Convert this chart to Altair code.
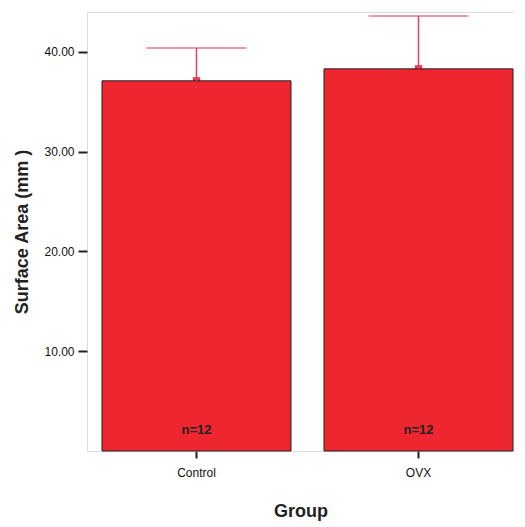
import altair as alt
import pandas as pd

groups = ["Control", "OVX"]
means = [37.1, 38.3]
upper = [40.4, 43.6]
n_labels = ["n=12", "n=12"]
y_ticks = [10, 20, 30, 40]

df = pd.DataFrame({"Group": groups, "Mean": means, "Upper": upper, "N": n_labels})

RED = "#ee2630"
ERR = "#e0405c"
FONT = "Liberation Sans"

x_scale = alt.Scale(paddingInner=0.1486, paddingOuter=0.036, align=0.9375)
y_scale = alt.Scale(domain=[0, 44], nice=False)

x_enc = alt.X("Group:N", sort=groups, scale=x_scale,
              axis=alt.Axis(title="Group", labelAngle=0, domain=False,
                            tickSize=7, tickColor="#222", tickWidth=2,
                            labelFont=FONT, labelFontSize=12, labelColor="#111",
                            labelPadding=9,
                            titleFont=FONT, titleFontSize=18, titleFontWeight="bold",
                            titleColor="#222", titlePadding=24))

base = alt.Chart(df)

square = base.mark_square(color=ERR, size=55, opacity=1).encode(
    x=x_enc,
    y=alt.Y("Mean:Q", scale=y_scale),
)

bars = base.mark_bar(color=RED, stroke="#222", strokeWidth=1).encode(
    x=x_enc,
    y=alt.Y("Mean:Q", scale=y_scale,
            axis=alt.Axis(title="Surface Area (mm )", values=y_ticks, format=".2f",
                          grid=False, domain=False, tickSize=9, tickColor="#222",
                          tickWidth=2, labelFont=FONT, labelFontSize=12,
                          labelColor="#111", labelPadding=4,
                          titleFont=FONT, titleFontSize=18, titleFontWeight="bold",
                          titleColor="#222", titlePadding=12)),
)

rule = base.mark_rule(color=ERR, strokeWidth=1.5).encode(
    x=x_enc,
    y=alt.Y("Mean:Q", scale=y_scale),
    y2="Upper:Q",
)

cap = base.mark_tick(color=ERR, size=100, thickness=1.5).encode(
    x=x_enc,
    y=alt.Y("Upper:Q", scale=y_scale),
)

ntext = base.mark_text(font=FONT, fontSize=13, fontWeight="bold", color="#222",
                       baseline="bottom", dy=-14).encode(
    x=x_enc,
    y=alt.datum(0, scale=y_scale),
    text="N:N",
)

chart = alt.layer(square, bars, rule, cap, ntext).properties(
    width=427, height=439,
    padding={"left": 5, "top": 4, "right": 0, "bottom": 5},
).configure_view(stroke="#444", strokeWidth=1).configure(background="white")

chart.save("out.html", embed_options={"renderer": "svg", "actions": False})
